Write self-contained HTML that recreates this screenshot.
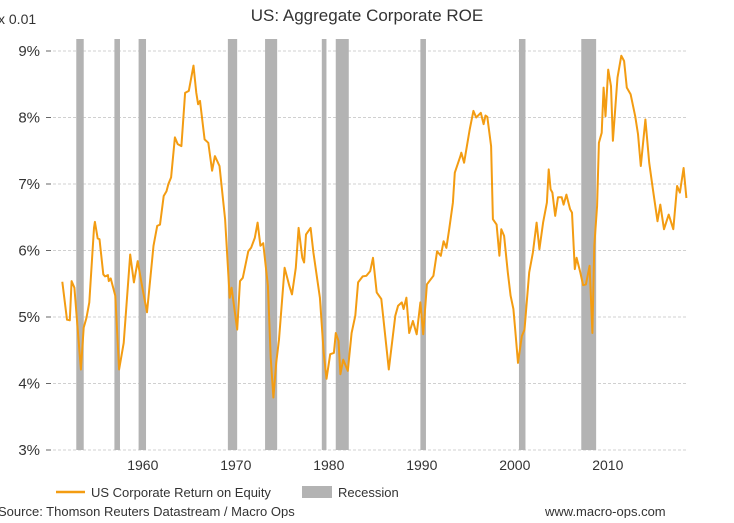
<!DOCTYPE html>
<html><head><meta charset="utf-8"><style>
html,body{margin:0;padding:0;background:#fff;}
body{width:734px;height:518px;overflow:hidden;font-family:"Liberation Sans",sans-serif;}
svg text{font-family:"Liberation Sans",sans-serif;}
</style></head><body>
<svg id="chart" width="734" height="518" viewBox="0 0 734 518" xmlns="http://www.w3.org/2000/svg">
<text x="367" y="21" text-anchor="middle" font-size="17" fill="#333">US: Aggregate Corporate ROE</text>
<text x="-2" y="24" font-size="14" fill="#333">x 0.01</text>
<g id="grid"></g><g id="rec"></g><g id="series"></g><g id="axes"></g>
<line x1="56" y1="492" x2="85" y2="492" stroke="#F39C12" stroke-width="2.5"/>
<text x="91" y="497" font-size="13" fill="#333">US Corporate Return on Equity</text>
<rect x="302" y="486" width="30" height="12" fill="#b3b3b3"/>
<text x="338" y="497" font-size="13" fill="#333">Recession</text>
<text x="-2" y="516" font-size="13" fill="#333">Source: Thomson Reuters Datastream / Macro Ops</text>
<text x="545" y="516" font-size="13" fill="#333">www.macro-ops.com</text>
</svg>
<script>
const yTicks=[3,4,5,6,7,8,9];
const xTicks=[1960,1970,1980,1990,2000,2010];
const recStart=[1953.6,1957.7,1960.3,1969.9,1973.9,1980.0,1981.5,1990.6,2001.2,2007.9];
const recEnd=[1954.4,1958.3,1961.1,1970.9,1975.2,1980.5,1982.9,1991.2,2001.9,2009.5];
const years=[1952.1,1952.6,1952.9,1953.1,1953.4,1954.1,1954.4,1954.7,1955.0,1955.5,1955.6,1955.9,1956.1,1956.5,1956.7,1957.0,1957.1,1957.3,1957.8,1958.2,1958.7,1959.4,1959.8,1960.2,1960.6,1961.2,1961.9,1962.3,1962.6,1963.0,1963.3,1963.5,1963.8,1964.2,1964.5,1964.9,1965.3,1965.7,1966.2,1966.5,1966.7,1966.9,1967.4,1967.8,1968.2,1968.5,1969.0,1969.6,1970.1,1970.3,1970.9,1971.2,1971.5,1972.1,1972.4,1972.8,1973.1,1973.4,1973.7,1974.2,1974.5,1974.8,1975.1,1975.4,1976.0,1976.5,1976.8,1977.2,1977.5,1977.9,1978.1,1978.3,1978.8,1979.1,1979.8,1980.2,1980.5,1980.9,1981.3,1981.5,1981.8,1982.0,1982.3,1982.8,1983.2,1983.6,1983.9,1984.4,1984.8,1985.2,1985.5,1985.9,1986.4,1987.2,1987.9,1988.2,1988.6,1988.8,1989.1,1989.4,1989.8,1990.2,1990.6,1990.9,1991.3,1992.0,1992.4,1992.8,1993.1,1993.4,1993.7,1994.1,1994.3,1994.9,1995.0,1995.3,1995.6,1995.9,1996.3,1996.6,1997.1,1997.4,1997.6,1997.8,1998.2,1998.4,1998.8,1999.1,1999.3,1999.6,2000.0,2000.3,2000.6,2000.8,2001.1,2001.5,2001.8,2002.3,2002.7,2003.1,2003.4,2003.8,2004.2,2004.4,2004.6,2004.8,2005.1,2005.4,2005.8,2006.0,2006.3,2006.7,2006.9,2007.2,2007.4,2007.8,2008.1,2008.4,2008.8,2009.1,2009.3,2009.6,2009.8,2010.1,2010.3,2010.5,2010.8,2011.1,2011.3,2011.8,2012.2,2012.5,2012.8,2013.2,2013.7,2014.0,2014.3,2014.8,2015.2,2015.6,2016.1,2016.4,2016.8,2017.3,2017.8,2018.2,2018.5,2018.9,2019.2];
const roe=[5.53,4.96,4.95,5.54,5.44,4.21,4.84,4.99,5.22,6.34,6.43,6.18,6.17,5.64,5.61,5.63,5.54,5.58,5.32,4.21,4.61,5.94,5.52,5.84,5.52,5.07,6.07,6.37,6.39,6.82,6.89,7.0,7.1,7.7,7.6,7.57,8.37,8.4,8.78,8.37,8.2,8.25,7.67,7.62,7.2,7.42,7.27,6.47,5.29,5.44,4.81,5.54,5.59,5.99,6.04,6.19,6.42,6.07,6.11,5.47,4.39,3.79,4.31,4.66,5.74,5.47,5.34,5.74,6.34,5.89,5.82,6.24,6.34,5.97,5.29,4.46,4.07,4.44,4.46,4.76,4.64,4.14,4.36,4.19,4.76,5.02,5.52,5.61,5.62,5.69,5.89,5.37,5.27,4.21,5.02,5.17,5.22,5.12,5.29,4.76,4.94,4.74,5.22,4.74,5.49,5.62,5.99,5.92,6.14,6.04,6.32,6.72,7.17,7.42,7.47,7.32,7.57,7.82,8.1,8.0,8.07,7.9,8.03,8.01,7.57,6.47,6.39,5.92,6.32,6.22,5.67,5.32,5.12,4.81,4.31,4.71,4.81,5.67,5.97,6.42,6.02,6.42,6.72,7.22,6.92,6.87,6.52,6.8,6.8,6.69,6.84,6.62,6.57,5.72,5.89,5.67,5.48,5.49,5.77,4.76,6.07,6.67,7.62,7.77,8.45,8.02,8.72,8.47,7.65,8.6,8.93,8.85,8.45,8.35,8.02,7.75,7.27,7.97,7.32,6.92,6.44,6.69,6.32,6.54,6.32,6.97,6.87,7.24,6.79];
const NS='http://www.w3.org/2000/svg';
const X=yr=>135.8+(yr-1960)*9.3;
const Y=v=>51+(9-v)*66.5;
const mk=(t,a,p)=>{const e=document.createElementNS(NS,t);for(const k in a)e.setAttribute(k,a[k]);p.appendChild(e);return e;};
const grid=document.getElementById('grid'),rec=document.getElementById('rec'),ser=document.getElementById('series'),axes=document.getElementById('axes');
yTicks.forEach(v=>{
  const g=mk('line',{x1:53,x2:688,y1:Y(v),y2:Y(v),stroke:'#d0d0d0','stroke-dasharray':'3,2'},grid);
  
  
  const tk=mk('line',{x1:46,x2:51,y1:Y(v),y2:Y(v),stroke:'#666'},axes);
  
  
  const t=mk('text',{x:40,y:Y(v)+5,'text-anchor':'end','font-size':15,fill:'#333'},axes);
  t.textContent=v+'%';
  
  
});
xTicks.forEach(yr=>{
  const t=mk('text',{x:X(yr)+7,y:470,'text-anchor':'middle','font-size':14,fill:'#333'},axes);
  t.textContent=yr;
  
  
});
recStart.forEach((s,i)=>{
  const r=mk('rect',{x:X(s),y:39,width:Math.max(X(recEnd[i])-X(s),4),height:411,fill:'#b3b3b3'},rec);
  
  
});
const d=years.map((y,i)=>(i?'L':'M')+X(y).toFixed(1)+','+Y(roe[i]).toFixed(1)).join(' ');
const p=mk('path',{d:d,fill:'none',stroke:'#F39C12','stroke-width':2,'stroke-linejoin':'round'},ser);


</script>
</body></html>
